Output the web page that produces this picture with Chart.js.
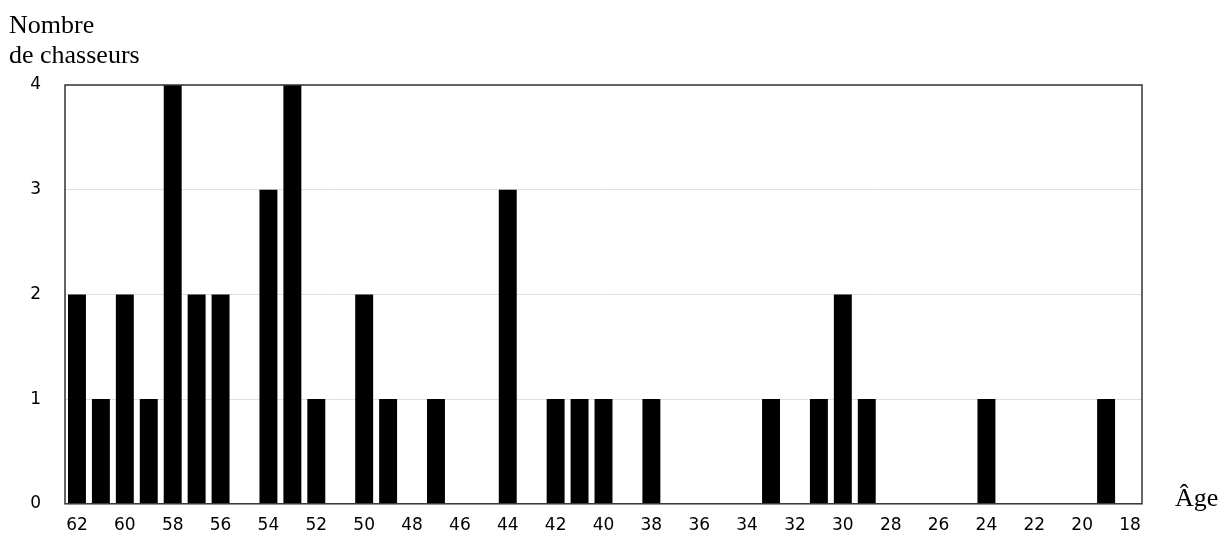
<!DOCTYPE html>
<html lang="fr">
<head>
    <meta charset="UTF-8">
    <title>Nombre de chasseurs par âge</title>
    <script src="https://cdn.jsdelivr.net/npm/chart.js"></script>
    <style>
        html, body {
            margin: 0;
            overflow: hidden;
            background: #ffffff;
        }
        #wrap {
            position: relative;
            width: 1221px;
            height: 538px;
        }
        #myChart {
            display: block;
        }
        .title {
            position: absolute;
            font-family: "Liberation Serif", "Times New Roman", serif;
            font-size: 26px;
            line-height: 30px;
            color: #000;
        }
    </style>
</head>
<body>
<div id="wrap">
    <canvas id="myChart"></canvas>
    <div class="title" style="left:9px; top:10px;">Nombre<br>de chasseurs</div>
    <div class="title" style="left:1175px; top:483px;">Âge</div>
</div>
<script>
    // ages from 62 down to 18, one category per year
    const ages = [62, 61, 60, 59, 58, 57, 56, 55, 54, 53, 52, 51, 50, 49, 48, 47, 46, 45, 44, 43, 42, 41, 40,
        39, 38, 37, 36, 35, 34, 33, 32, 31, 30, 29, 28, 27, 26, 25, 24, 23, 22, 21, 20, 19, 18];
    const hunters = [2, 1, 2, 1, 4, 2, 2, 0, 3, 4, 1, 0, 2, 1, 0, 1, 0, 0, 3, 0, 1, 1, 1,
        0, 1, 0, 0, 0, 0, 1, 0, 1, 2, 1, 0, 0, 0, 0, 1, 0, 0, 0, 0, 1, 0];
    const yTicks = [0, 1, 2, 3, 4];

    const frame = {
        id: 'frame',
        afterDraw(chart) {
            const a = chart.chartArea;
            const c = chart.ctx;
            c.save();
            c.strokeStyle = '#333';
            c.lineWidth = 1.5;
            c.strokeRect(a.left, a.top, a.right - a.left, a.bottom - a.top);
            c.restore();
        }
    };

    const ctx = document.getElementById('myChart').getContext('2d');
    const myChart = new Chart(ctx, {
        type: 'bar',
        data: {
            labels: ages.map(String),
            datasets: [{
                data: hunters,
                backgroundColor: '#000000',
                borderWidth: 0,
                barPercentage: 0.75,
                categoryPercentage: 1
            }]
        },
        options: {
            responsive: true,
            maintainAspectRatio: false,
            animation: false,
            layout: { padding: { left: 10, top: 85, right: 79, bottom: 0 } },
            plugins: {
                legend: { display: false },
                tooltip: { enabled: false }
            },
            scales: {
                x: {
                    grid: { display: false, drawTicks: false },
                    border: { display: false },
                    ticks: {
                        autoSkip: false,
                        maxRotation: 0,
                        color: '#000',
                        font: { family: 'DejaVu Sans', size: 17 },
                        padding: 12,
                        callback: (v, i) => i % 2 === 0 ? ages[i] : ''
                    },
                    afterFit: s => { s.height = 31; }
                },
                y: {
                    min: 0,
                    max: 4,
                    afterBuildTicks: s => { s.ticks = yTicks.map(v => ({ value: v })); },
                    grid: { color: '#e0e0e0', drawTicks: false },
                    border: { display: false },
                    ticks: {
                        color: '#000',
                        font: { family: 'DejaVu Sans', size: 17 },
                        padding: 24
                    },
                    afterFit: s => { s.width = 55; }
                }
            }
        },
        plugins: [frame]
    });
</script>
</body>
</html>
